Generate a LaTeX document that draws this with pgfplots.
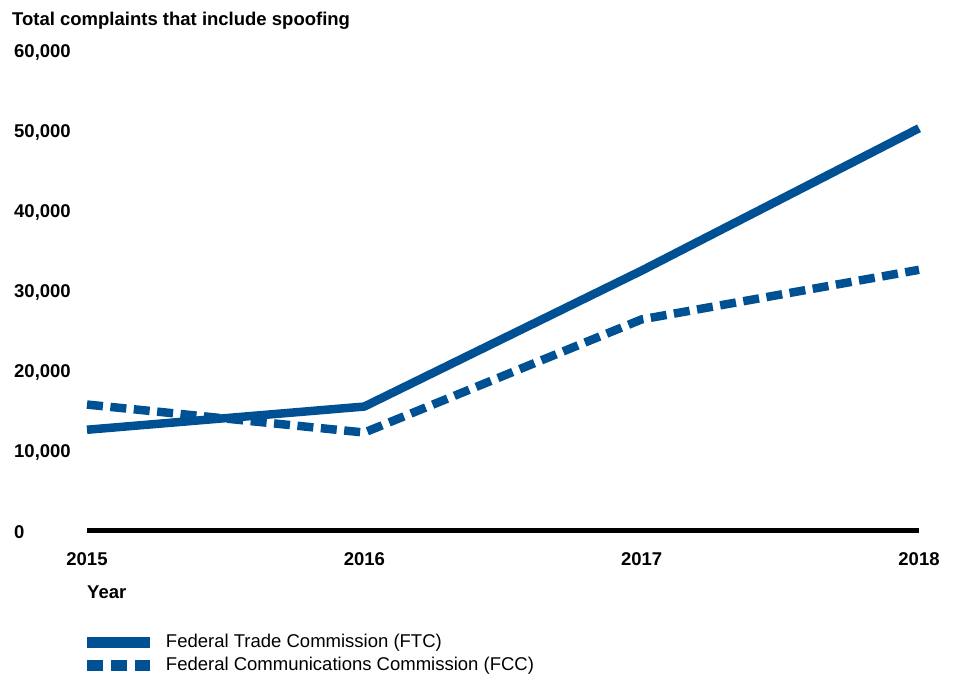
\documentclass[border=0pt]{standalone}
\usepackage{pgfplots}
\pgfplotsset{compat=1.18}
\usepackage{fontspec}
\setmainfont{Liberation Sans}
\definecolor{gaoblue}{RGB}{0,81,148}
\begin{document}
\begin{tikzpicture}
\useasboundingbox (0pt,0pt) rectangle (956pt,675pt);
\begin{axis}[
  at={(87pt,144.5pt)}, anchor=south west,
  scale only axis, width=832pt, height=479.8pt,
  xmin=0, xmax=3, ymin=0, ymax=60000,
  axis x line=bottom, axis y line=left,
  y axis line style={draw=none},
  x axis line style={line width=5.3pt, black, -},
  xtick={0,1,2,3},
  xticklabels={2015,2016,2017,2018},
  ytick={0,10000,20000,30000,40000,50000,60000},
  yticklabels={0,{10,000},{20,000},{30,000},{40,000},{50,000},{60,000}},
  scaled y ticks=false,
  major tick length=0pt, tick style={draw=none},
  ticklabel style={font=\bfseries\fontsize{18.5}{20}\selectfont, inner sep=0pt},
  yticklabel style={anchor=west, xshift=-73pt, yshift=-1.5pt},
  xticklabel style={anchor=center, yshift=-28.5pt},
  clip=false,
  legend style={at={(0,-0.2584)}, anchor=west, xshift=-5pt, draw=none, fill=none,
    inner sep=0pt, outer sep=0pt, row sep=6pt, column sep=11pt,
    font=\fontsize{18.5}{20}\selectfont,
    nodes={inner sep=0pt, text height=13pt, text depth=4pt}},
  legend cell align=left,
  legend image code/.code={\draw[#1, line width=11pt] (0pt,0pt) -- (62pt,0pt);},
]
\addplot[gaoblue, line width=8.5pt, line join=round] coordinates {
  (0,12600) (1,15500) (2,32500) (3,50300)};
\addlegendentry{Federal Trade Commission (FTC)}
\addplot[gaoblue, line width=8.5pt, line join=round, dash pattern=on 16pt off 7.5pt] coordinates {
  (0,15750) (1,12250) (2,26400) (3,32600)};
\addlegendentry{Federal Communications Commission (FCC)}
\end{axis}
\node[anchor=base west, inner sep=0pt, font=\bfseries\fontsize{18.5}{20}\selectfont] at (12pt,649pt) {Total complaints that include spoofing};
\node[anchor=base west, inner sep=0pt, font=\bfseries\fontsize{18.5}{20}\selectfont] at (87pt,76.7pt) {Year};
\end{tikzpicture}
\end{document}
